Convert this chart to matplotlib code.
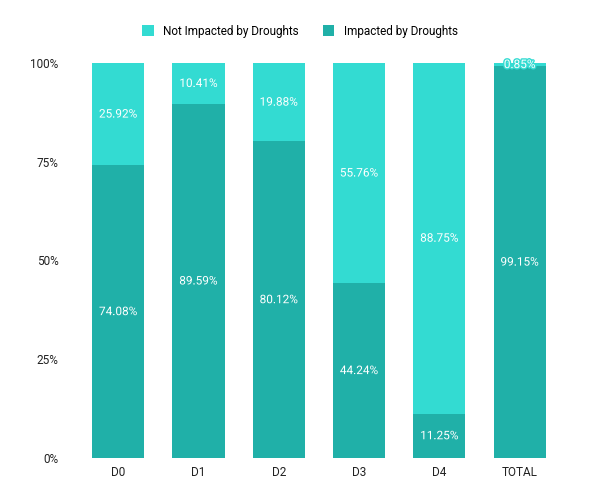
import matplotlib
matplotlib.use("Agg")
import matplotlib.pyplot as plt
import matplotlib.patheffects as pe
from matplotlib.ticker import FuncFormatter

categories = ["D0", "D1", "D2", "D3", "D4", "TOTAL"]
impacted = [74.08, 89.59, 80.12, 44.24, 11.25, 99.15]
not_impacted = [25.92, 10.41, 19.88, 55.76, 88.75, 0.85]

plt.rcParams['font.family'] = ['Roboto', 'DejaVu Sans']

c_dark = "#20b0a8"
c_light = "#33dbd2"

fig = plt.figure(figsize=(6, 5.04), dpi=100)
ax = fig.add_axes([0.13, 0.0913, 0.803, 0.784])

x = range(len(categories))
w = 0.65
b1 = ax.bar(x, impacted, w, color=c_dark, label="Impacted by Droughts")
b2 = ax.bar(x, not_impacted, w, bottom=impacted, color=c_light, label="Not Impacted by Droughts")

for i in x:
    ax.text(i, impacted[i] / 2, f"{impacted[i]:.2f}%", ha="center", va="center",
            color="white", fontsize=8.5,
            path_effects=[pe.withStroke(linewidth=2, foreground=c_dark)])
    ax.text(i, impacted[i] + not_impacted[i] / 2, f"{not_impacted[i]:.2f}%", ha="center",
            va="center", color="white", fontsize=8.5,
            path_effects=[pe.withStroke(linewidth=2, foreground=c_light)])

ax.set_xlim(-0.5, len(categories) - 0.5)
ax.set_ylim(0, 100)
ax.set_yticks([0, 25, 50, 75, 100])
ax.yaxis.set_major_formatter(FuncFormatter(lambda v, p: f"{int(v)}%"))
ax.set_xticks(list(x))
ax.set_xticklabels(categories)
for s in ax.spines.values():
    s.set_visible(False)
ax.tick_params(axis="both", length=0, labelsize=8.5, colors="#222222")
ax.tick_params(axis="y", pad=14)
ax.tick_params(axis="x", pad=6)

handles = [b2, b1]
fig.legend(handles, [h.get_label() for h in handles], loc="center", bbox_to_anchor=(0.5, 0.938),
           ncol=2, frameon=False, fontsize=8.5, handlelength=1.0, handleheight=1.0,
           columnspacing=2.0, handletextpad=0.8)

fig.savefig("out.png", dpi=100)
